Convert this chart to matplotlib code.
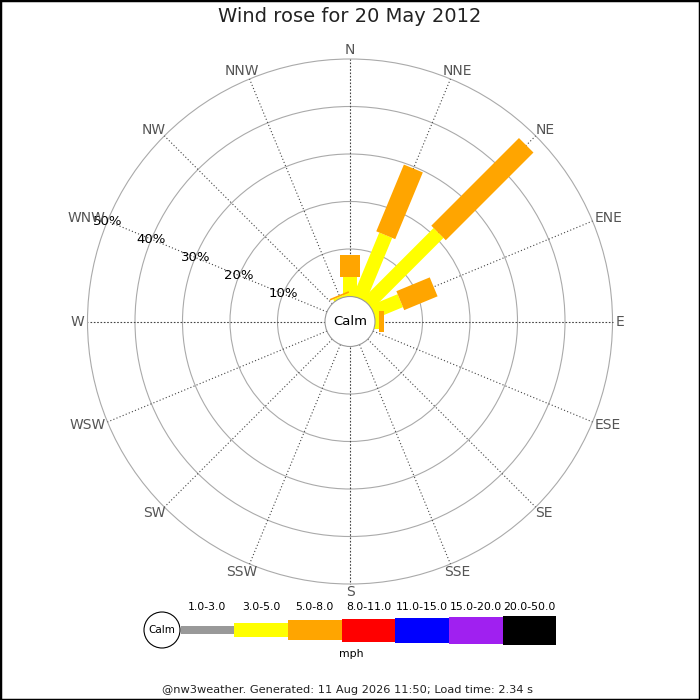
import numpy as np
import matplotlib
matplotlib.use("Agg")
import matplotlib.pyplot as plt
from matplotlib.patches import Polygon, Circle, Rectangle

# -----------------------------
# Data (percent of time per direction)
# -----------------------------

directions = ["N", "NNE", "NE", "ENE", "E", "ESE", "SE", "SSE",
              "S", "SSW", "SW", "WSW", "W", "WNW", "NW", "NNW"]

speed_classes = ["1.0-3.0", "3.0-5.0", "5.0-8.0", "8.0-11.0",
                 "11.0-15.0", "15.0-20.0", "20.0-50.0"]
class_colors = ["#999999", "#ffff00", "#ffa500", "#ff0000",
                "#0000ff", "#a020f0", "#000000"]

pct_1_3 = [0, 0, 0, 0, 0, 0, 0, 0, 0, 0, 0, 0, 0, 0, 0, 0]
pct_3_5 = [4.1, 14.4, 21.1, 6.2, 0.9, 0, 0, 0, 0, 0, 0, 0, 0, 0, 0, 0.4]
pct_5_8 = [4.6, 15.2, 26.1, 7.6, 1.0, 0, 0, 0, 0, 0, 0, 0, 0, 0, 0, 0.35]
pct_8_11 = [0] * 16
pct_11_15 = [0] * 16
pct_15_20 = [0] * 16
pct_20_50 = [0] * 16

ring_pcts = [10, 20, 30, 40, 50]
ring_labels = ["10%", "20%", "30%", "40%", "50%"]

title = "Wind rose for 20 May 2012"
footer = "@nw3weather. Generated: 11 Aug 2026 11:50; Load time: 2.34 s"

series = [pct_1_3, pct_3_5, pct_5_8, pct_8_11, pct_11_15, pct_15_20, pct_20_50]

# -----------------------------
# Layout
# -----------------------------

PX = 4.75           # pixels per percent
R0 = 25 / PX        # calm circle radius (in percent units)
CX, CY = 350, 321.5  # centre of the rose in pixels
bar_px = [8, 14, 20.5, 23, 25, 27, 29]

fig = plt.figure(figsize=(7, 7), dpi=100)

ax = fig.add_axes([0, 0, 1, 1])
ax.set_xlim(-CX / PX, (700 - CX) / PX)
ax.set_ylim(-(700 - CY) / PX, CY / PX)
ax.axis("off")

# rings
for p in ring_pcts:
    ax.add_patch(Circle((0, 0), R0 + p, fill=False, ec="#aaaaaa", lw=0.8, zorder=1))

# spokes
for i, name in enumerate(directions):
    th = np.radians(i * 22.5)
    ls = (0, (1.5, 1.5)) if i % 4 == 0 else (0, (1, 2))
    r1, r2 = R0, R0 + ring_pcts[-1]
    ax.plot([r1 * np.sin(th), r2 * np.sin(th)], [r1 * np.cos(th), r2 * np.cos(th)],
            color="#444444", lw=0.8, ls=ls, zorder=1)

# bars
for i in range(len(directions)):
    th = np.radians(i * 22.5)
    u = np.array([np.sin(th), np.cos(th)])
    n = np.array([np.cos(th), -np.sin(th)])
    cum = 0.0
    for k, vals in enumerate(series):
        v = vals[i]
        if v <= 0:
            continue
        ra = 0 if cum == 0 else R0 + cum
        rb = R0 + cum + v
        hw = bar_px[k] / PX / 2
        pts = [ra * u - hw * n, rb * u - hw * n, rb * u + hw * n, ra * u + hw * n]
        ax.add_patch(Polygon(pts, closed=True, fc=class_colors[k], ec="none", zorder=2))
        cum += v

# calm circle
ax.add_patch(Circle((0, 0), R0, fc="white", ec="#999999", lw=0.8, zorder=3))
ax.text(0, 0, "Calm", ha="center", va="center", fontsize=9.5, color="black", zorder=4)

# ring labels along WNW
th = np.radians(292.5)
for p, lab in zip(ring_pcts, ring_labels):
    r = R0 + p
    ax.text(r * np.sin(th), r * np.cos(th), lab, ha="center", va="center",
            fontsize=9.5, color="black", zorder=5)

# direction labels
dir_texts = []
for i, name in enumerate(directions):
    t = ax.text(0, 0, name, ha="center", va="center", fontsize=10, color="#555555", zorder=5)
    dir_texts.append((t, np.radians(i * 22.5)))

fig.canvas.draw()
r_lab = 266 / PX
for t, th in dir_texts:
    bb = t.get_window_extent()
    w = bb.width / PX
    h = 10 / PX
    x = r_lab * np.sin(th) + w / 2 * np.sin(th)
    y = r_lab * np.cos(th) + h / 2 * np.cos(th)
    t.set_position((x, y))

# -----------------------------
# Legend
# -----------------------------

leg = fig.add_axes([0, 0, 1, 1])
leg.set_xlim(0, 700)
leg.set_ylim(700, 0)
leg.axis("off")

seg_w = 53.7
x0 = 180.5
yc = 630
for k, (lab, col) in enumerate(zip(speed_classes, class_colors)):
    h = bar_px[k]
    leg.add_patch(Rectangle((x0 + k * seg_w, yc - h / 2), seg_w, h, fc=col, ec="none"))
    leg.text(x0 + (k + 0.5) * seg_w, 607, lab, ha="center", va="center", fontsize=7.8)

leg.add_patch(Circle((162, yc), 18, fc="white", ec="black", lw=0.8, zorder=3))
leg.text(162, yc, "Calm", ha="center", va="center", fontsize=7.5, zorder=4)
leg.text(351, 654, "mph", ha="center", va="center", fontsize=7.8)

fig.text(0.5, 1 - 17 / 700, title, ha="center", va="center", fontsize=14, color="#222222")
fig.text(0.497, 1 - 690 / 700, footer, ha="center", va="center", fontsize=8.2, color="#222222")

fig.patches.append(Rectangle((0, 0), 1, 1, transform=fig.transFigure,
                             fill=False, ec="black", lw=2.5))

fig.savefig("out.png", dpi=100)
